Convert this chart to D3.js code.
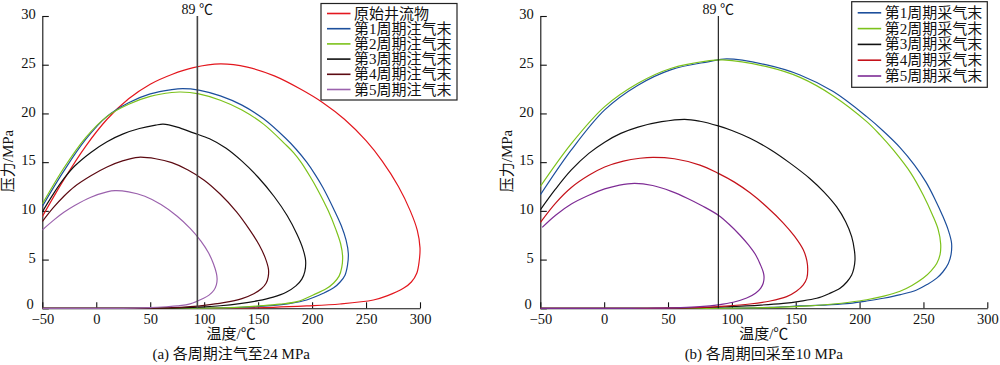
<!DOCTYPE html>
<html><head><meta charset="utf-8">
<script src="https://cdn.jsdelivr.net/npm/d3@7"></script>
<style>body{margin:0;background:#fff} svg{display:block}</style>
</head><body><svg id="c" width="1000" height="365"></svg>
<script>
// ---------- data ----------
const tempTicks = [-50, 0, 50, 100, 150, 200, 250, 300];
const pressureTicks = [0, 5, 10, 15, 20, 25, 30];
const refLabel = "89 ℃";
const refLineLeftT = 93.7;   // as drawn in panel (a)
const refLineRightT = 89.4;  // as drawn in panel (b)

const leftNames = ["原始井流物", "第1周期注气末", "第2周期注气末", "第3周期注气末", "第4周期注气末", "第5周期注气末"];
const rightNames = ["第1周期采气末", "第2周期采气末", "第3周期采气末", "第4周期采气末", "第5周期采气末"];

// panel (a): [temperature °C, pressure MPa]
const leftOriginal = [[-50,9.4],[-30,13.2],[-10,16.6],[10,19.4],[30,21.5],[50,23.0],[70,24.0],[90,24.7],[115,25.08],[140,24.75],[165,23.85],[190,22.45],[210,21.1],[230,19.4],[250,17.2],[265,15.1],[280,12.5],[291,10.0],[297.5,8.0],[300,6.2],[299.2,4.8],[297,3.6],[292,2.7],[284.6,2.05],[270,1.3],[256.8,0.85],[225.9,0.44],[195,0.24],[164,0.1],[130,0.03],[100,0],[-50,0]];
const leftCycle1 = [[-50,10.45],[-30,14.1],[-10,17.3],[10,19.7],[30,21.1],[50,22.0],[70,22.45],[80,22.55],[95,22.4],[115,21.8],[135,20.85],[155,19.45],[175,17.5],[185,16.35],[195,15.0],[203,13.7],[210,12.4],[220,10.2],[227,8.5],[231.5,7.0],[233.6,5.6],[232.8,4.4],[230.5,3.4],[226,2.7],[220,2.1],[210.4,1.54],[195,0.85],[180,0.5],[164,0.3],[140,0.12],[110,0.03],[80,0],[-50,0]];
const leftCycle2 = [[-50,10.7],[-30,14.4],[-10,17.5],[10,19.7],[30,20.95],[50,21.75],[70,22.15],[78,22.2],[95,22.0],[115,21.35],[135,20.35],[155,18.9],[175,16.85],[183,15.95],[190,14.95],[198,13.55],[205,12.2],[215,10.0],[222,8.1],[226.5,6.6],[228.3,5.3],[227.5,4.2],[225,3.3],[220,2.6],[213,2.0],[201,1.37],[186,0.68],[170,0.42],[155,0.27],[130,0.1],[100,0.02],[70,0],[-50,0]];
const leftCycle3 = [[-50,9.9],[-40,11.7],[-30,13.3],[-20,14.6],[-5,16.0],[10,17.1],[25,17.9],[40,18.45],[55,18.8],[62,18.9],[75,18.6],[90,18.0],[105,17.4],[120,16.45],[135,15.1],[150,13.45],[165,11.45],[177,9.5],[186,7.6],[191.5,6.1],[194,4.9],[193.3,3.8],[190.5,3.0],[185,2.3],[176,1.65],[164,1.15],[150,0.78],[133,0.48],[115,0.26],[100,0.15],[80,0.05],[60,0.01],[40,0],[-50,0]];
const leftCycle4 = [[-50,8.9],[-40,10.3],[-30,11.5],[-20,12.5],[-5,13.6],[10,14.5],[25,15.15],[39,15.5],[55,15.35],[70,14.95],[85,14.2],[100,13.15],[115,11.7],[130,9.9],[142.5,8.0],[151,6.5],[156.5,5.2],[159.6,4.0],[159.3,3.2],[157.5,2.6],[153,2.0],[146,1.5],[135,1.0],[118,0.58],[100,0.3],[87,0.17],[70,0.06],[50,0.01],[35,0],[-50,0]];
const leftCycle5 = [[-50,8.04],[-40,9.0],[-30,9.85],[-20,10.55],[-5,11.4],[10,11.95],[17.4,12.07],[30,11.95],[45,11.5],[60,10.65],[75,9.45],[87,8.2],[97,6.9],[104,5.7],[108.5,4.6],[111.3,3.6],[112,3.0],[111.3,2.4],[109,1.85],[104.5,1.35],[99,1.0],[87,0.45],[75,0.25],[65,0.16],[50,0.06],[35,0.01],[20,0],[-50,0]];

// panel (b)
const rightCycle1 = [[-50,11.63],[-25.7,16.25],[0.4,20.36],[26.5,22.9],[52.6,24.5],[81.3,25.3],[96,25.6],[127.3,24.98],[153.4,23.95],[179.4,22.24],[205.6,19.67],[218.5,18.2],[231.7,16.5],[243,14.7],[252,12.95],[259,11.2],[265,9.5],[269.5,8.0],[272,6.7],[271.6,5.5],[269.5,4.6],[265,3.7],[260.4,3.1],[253,2.45],[244.7,1.88],[232,1.4],[218.6,1.03],[205,0.74],[192.5,0.51],[175,0.36],[153.4,0.24],[130,0.1],[100,0.02],[70,0],[-50,0]];
const rightCycle2 = [[-50,12.5],[-25.7,16.9],[0.4,20.7],[26.5,23.1],[52.6,24.64],[81.3,25.4],[93,25.5],[127.3,24.8],[153.4,23.7],[179.4,21.8],[205.6,19.16],[216,17.8],[226.4,16.25],[240,13.9],[249.9,11.6],[257,9.6],[261.5,8.1],[263.5,6.6],[263,5.5],[260.4,4.6],[256,3.85],[249.9,3.1],[241,2.35],[231.7,1.75],[219,1.25],[205.6,0.88],[192,0.62],[179.4,0.44],[160,0.25],[140,0.12],[110,0.03],[80,0],[-50,0]];
const rightCycle3 = [[-50,10.1],[-38,12.25],[-25.7,14.2],[-12,15.9],[0.4,17.05],[13,17.95],[26.5,18.6],[45,19.15],[63,19.4],[75,19.2],[89.4,18.72],[100,18.25],[114.2,17.45],[130,16.3],[145,14.95],[161.2,13.3],[172,11.95],[182.1,10.4],[189,8.9],[193.8,7.35],[196,5.9],[196.4,4.96],[195.5,4.1],[193.8,3.42],[190,2.7],[184.7,2.05],[176,1.5],[166.4,1.03],[153,0.72],[140.3,0.51],[120,0.31],[101,0.2],[80,0.08],[60,0.02],[45,0],[-50,0]];
const rightCycle4 = [[-50,8.8],[-38,10.8],[-25.7,12.4],[-12,13.65],[0.4,14.5],[15,15.1],[28,15.4],[38.3,15.5],[55,15.35],[75,14.7],[89.4,13.85],[102,12.95],[114.2,11.85],[127,10.45],[140.3,8.75],[149,7.4],[155.9,6.0],[158.7,4.9],[159.4,3.95],[158.7,3.1],[155.9,2.4],[150.5,1.75],[142.9,1.2],[130,0.75],[114.2,0.44],[95,0.23],[75.1,0.1],[55,0.03],[35,0],[-50,0]];
const rightCycle5 = [[-48.5,8.3],[-38,9.55],[-25.7,10.7],[-12,11.6],[0.4,12.25],[12,12.65],[23.9,12.83],[38,12.6],[52.6,12.0],[65,11.3],[77,10.5],[89.4,9.55],[98,8.6],[106.4,7.5],[113,6.5],[119,5.4],[122.6,4.4],[124.6,3.7],[125.2,3.2],[124.6,2.6],[122.5,2.05],[118.5,1.55],[111.6,1.05],[101,0.62],[89.4,0.36],[75,0.17],[60,0.07],[40,0.01],[20,0],[-50,0]];

const leftColors = ["#e3171e", "#1d4f9c", "#7cc21b", "#111111", "#5c0a12", "#9b62ad"];
const rightColors = ["#1d4f9c", "#7cc21b", "#111111", "#c5121a", "#7e2c95"];

const leftSeries = [leftOriginal, leftCycle1, leftCycle2, leftCycle3, leftCycle4, leftCycle5];
const rightSeries = [rightCycle1, rightCycle2, rightCycle3, rightCycle4, rightCycle5];

// ---------- drawing ----------
const svg = d3.select("#c");
const serif = "'Liberation Serif','Noto Sans CJK SC',serif";

function panel(opts) {
  const x = d3.scaleLinear().domain([-50, 300]).range(opts.xr);
  const y = d3.scaleLinear().domain([0, 30]).range([308.3, 16]);
  const g = svg.append("g");
  const cid = "clip" + opts.id;
  svg.append("clipPath").attr("id", cid).append("rect")
    .attr("x", opts.xr[0]).attr("y", 10).attr("width", opts.xr[1] - opts.xr[0] + 2).attr("height", 299.5);

  const ax = g.append("g").attr("transform", `translate(0,${y(0)})`)
    .call(d3.axisBottom(x).tickValues(tempTicks).tickSize(-6).tickSizeOuter(0).tickPadding(5));
  const ay = g.append("g").attr("transform", `translate(${x(-50)},0)`)
    .call(d3.axisLeft(y).tickValues(pressureTicks).tickSize(-6.5).tickSizeOuter(0).tickPadding(6.5));
  [ax, ay].forEach(a => {
    a.selectAll("text").attr("font-family", serif).attr("font-size", 14.5).attr("fill", "#111");
    a.selectAll("line,path").attr("stroke", "#111").attr("stroke-width", 1.1);
  });
  ay.selectAll("text").attr("dy", "0.18em");
  // keep the "0" pressure label clear of the "−50" temperature label
  ay.selectAll(".tick").filter(d => d === 0).select("text").attr("dy", "0.02em").attr("x", -8.5);

  const line = d3.line().x(d => x(d[0])).y(d => y(d[1])).curve(d3.curveCatmullRom.alpha(0.5));
  const cg = g.append("g").attr("clip-path", `url(#${cid})`);
  opts.series.forEach((s, i) => {
    cg.append("path").attr("d", line(s)).attr("fill", "none")
      .attr("stroke", opts.colors[i]).attr("stroke-width", 1.2);
  });

  // reference temperature line
  g.append("line").attr("x1", x(opts.refT)).attr("x2", x(opts.refT))
    .attr("y1", y(30)).attr("y2", y(0))
    .attr("stroke", opts.refColor).attr("stroke-width", opts.refW);
  g.append("text").attr("x", x(opts.refT)).attr("y", 14).attr("text-anchor", "middle")
    .attr("font-family", serif).attr("font-size", 14).attr("fill", "#111").text(refLabel);

  // axis titles
  const cx = (opts.xr[0] + opts.xr[1]) / 2;
  g.append("text").attr("x", cx).attr("y", 339).attr("text-anchor", "middle")
    .attr("font-family", serif).attr("font-size", 15).attr("fill", "#111").text("温度/℃");
  g.append("text").attr("x", cx).attr("y", 359).attr("text-anchor", "middle")
    .attr("font-family", serif).attr("font-size", 15).attr("fill", "#111").text(opts.caption);
  g.append("text").attr("transform", `translate(${opts.ytx},161) rotate(-90)`)
    .attr("text-anchor", "middle").attr("dominant-baseline", "central")
    .attr("font-family", serif).attr("font-size", 15).attr("fill", "#111").text("压力/MPa");

  // legend
  const L = opts.legend;
  g.append("rect").attr("x", L.x).attr("y", L.y).attr("width", L.w).attr("height", L.h)
    .attr("fill", "#fff").attr("stroke", "#222").attr("stroke-width", 1.2);
  opts.names.forEach((n, i) => {
    const yy = L.row0 + i * L.dy;
    g.append("line").attr("x1", L.x + 6).attr("x2", L.x + 29.5).attr("y1", yy).attr("y2", yy)
      .attr("stroke", opts.colors[i]).attr("stroke-width", 1.6);
    g.append("text").attr("x", L.x + 33).attr("y", yy).attr("dominant-baseline", "central")
      .attr("font-family", serif).attr("font-size", 15).attr("fill", "#111").text(n);
  });
}

panel({id: "a", xr: [42.3, 420], series: leftSeries, colors: leftColors, names: leftNames,
  refT: refLineLeftT, refColor: "#444", refW: 1.6, caption: "(a) 各周期注气至24 MPa", ytx: 7.5,
  legend: {x: 321, y: 3.5, w: 136, h: 96.5, row0: 13.5, dy: 15.2}});
panel({id: "b", xr: [540.3, 987.3], series: rightSeries, colors: rightColors, names: rightNames,
  refT: refLineRightT, refColor: "#111", refW: 1.1, caption: "(b) 各周期回采至10 MPa", ytx: 507,
  legend: {x: 851.7, y: 1.7, w: 135.6, h: 85.6, row0: 12.8, dy: 15.8}});
</script></body></html>
